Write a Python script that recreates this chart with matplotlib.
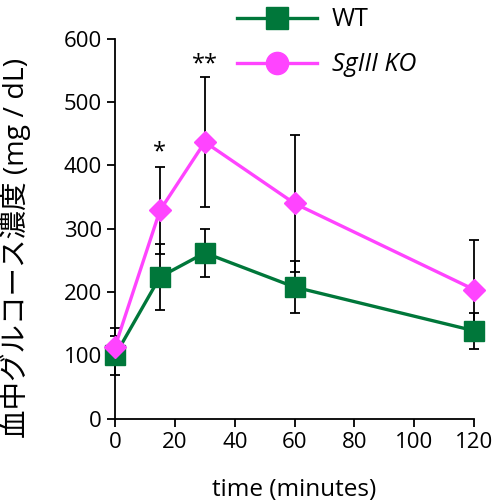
import matplotlib
matplotlib.use('Agg')
import matplotlib.pyplot as plt

plt.rcParams['font.family'] = ['Open Sans', 'Noto Sans CJK JP', 'DejaVu Sans']

# data
time = [0, 15, 30, 60, 120]
wt_mean = [100, 224, 262, 208, 139]
wt_err = [31, 52, 38, 41, 28]
ko_mean = [114, 329, 437, 340, 204]
ko_err = [29, 69, 103, 108, 79]
stars = {15: ('*', 421), 30: ('**', 559)}

green = '#00773a'
pink = '#ff44ff'

fig = plt.figure(figsize=(4.96, 5.04), dpi=100)
ax = fig.add_axes([0.232, 0.169, 0.724, 0.754])

ax.errorbar(time, wt_mean, yerr=wt_err, fmt='none', ecolor='black',
            elinewidth=1.3, capsize=3.5, capthick=1.3, zorder=2, clip_on=False)
ax.errorbar(time, ko_mean, yerr=ko_err, fmt='none', ecolor='black',
            elinewidth=1.3, capsize=3.5, capthick=1.3, zorder=2, clip_on=False)
ax.plot(time, wt_mean, color=green, lw=2.4, marker='s', ms=15,
        zorder=3, clip_on=False)
ax.plot(time, ko_mean, color=pink, lw=2.4, marker='D', ms=11.5,
        zorder=4, clip_on=False)

for t, (s, yy) in stars.items():
    ax.text(t, yy, s, ha='center', va='center', fontsize=17)

ax.set_xlim(0, 120)
ax.set_ylim(0, 600)
ax.set_xticks([0, 20, 40, 60, 80, 100, 120])
ax.set_yticks([0, 100, 200, 300, 400, 500, 600])
ax.tick_params(labelsize=16, width=1.3, length=6, direction='out')
for sp in ['top', 'right']:
    ax.spines[sp].set_visible(False)
for sp in ['left', 'bottom']:
    ax.spines[sp].set_linewidth(1.3)

ax.set_xlabel('time (minutes)', fontsize=17.5, labelpad=18)
ax.set_ylabel('血中グルコース濃度 (mg / dL)', fontsize=20.5, labelpad=4)
ax.yaxis.set_label_coords(-0.235, 0.45)

# legend drawn above the axes like the original
h1, = ax.plot([], [], color=green, lw=2.4, marker='s', ms=16)
h2, = ax.plot([], [], color=pink, lw=2.4, marker='o', ms=16)
leg = fig.legend([h1, h2], ['WT', 'SgIII KO'], loc='upper left',
                 bbox_to_anchor=(0.432, 1.03), frameon=False, fontsize=18,
                 handlelength=3.2, labelspacing=0.8, handletextpad=0.6)
leg.get_texts()[1].set_style('italic')

fig.savefig('out.png', dpi=100)
